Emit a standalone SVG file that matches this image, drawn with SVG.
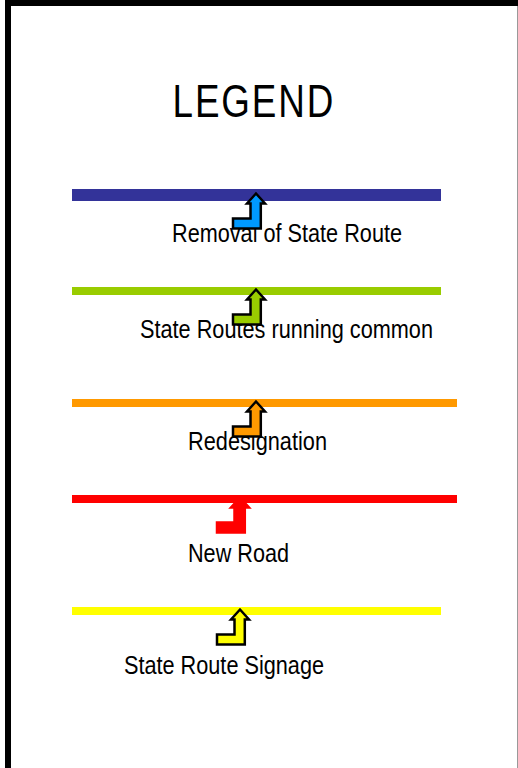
<svg xmlns="http://www.w3.org/2000/svg" width="518" height="768" viewBox="0 0 518 768">
<style>
text{font-family:"Liberation Sans",Arial,sans-serif;font-size:25px;fill:#000}
.title{font-size:46px;letter-spacing:2.4px}
.bar{stroke:none}
.arrow{stroke:#000;stroke-width:2.5;stroke-linejoin:miter}
</style>
<defs>
<path id="bent" d="M0 1.5L9 11.5H4.8V36.5H-23V26.5H-5.5V11.5H-9Z"/>
</defs>
<rect width="518" height="768" fill="#fff"/>
<g id="frame">
<path d="M8 768V3H518" fill="none" stroke="#000" stroke-width="6"/>
<path d="M517.5 6V768" fill="none" stroke="#999" stroke-width="1"/>
</g>
<text id="title" class="title" transform="translate(172.5 116.5) scale(.8 1)">LEGEND</text>
<g id="connectors">
<rect class="bar" x="72" y="189" width="369" height="12" fill="#333399"/>
<rect class="bar" x="72" y="287" width="369" height="8" fill="#99cc00"/>
<rect class="bar" x="72" y="399" width="385" height="8" fill="#ff9900"/>
<rect class="bar" x="72" y="495" width="385" height="8" fill="#ff0000"/>
<rect class="bar" x="72" y="607" width="369" height="8" fill="#ffff00"/>
</g>
<g id="removal">
<text x="172" y="242" textLength="230" lengthAdjust="spacingAndGlyphs">Removal of State Route</text>
<use href="#bent" class="arrow" x="256" y="192" fill="#0099ff"/>
</g>
<g id="common">
<text x="140" y="338" textLength="293" lengthAdjust="spacingAndGlyphs">State Routes running common</text>
<use href="#bent" class="arrow" x="256" y="288" fill="#99cc00"/>
</g>
<g id="redesignation">
<text x="188" y="450" textLength="139" lengthAdjust="spacingAndGlyphs">Redesignation</text>
<use href="#bent" class="arrow" x="256" y="400" fill="#ff9900"/>
</g>
<g id="newroad">
<text x="188" y="562" textLength="101" lengthAdjust="spacingAndGlyphs">New Road</text>
<use href="#bent" x="240" y="496" fill="#ff0000" stroke="#ff0000" stroke-width="2.5"/>
</g>
<g id="signage">
<text x="124" y="674" textLength="200" lengthAdjust="spacingAndGlyphs">State Route Signage</text>
<use href="#bent" class="arrow" x="240" y="608" fill="#ffff00"/>
</g>
</svg>
